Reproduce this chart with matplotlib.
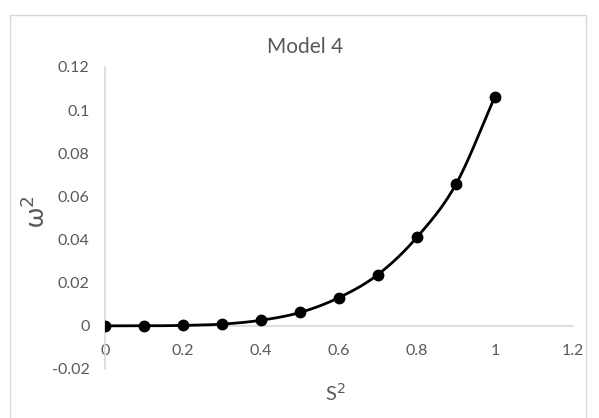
import numpy as np
import matplotlib
matplotlib.use("Agg")
import matplotlib.pyplot as plt
from matplotlib.patches import Rectangle

# data
s2 = [0.0, 0.1, 0.2, 0.3, 0.4, 0.5, 0.6, 0.7, 0.8, 0.9, 1.0]
omega2 = [0.0, 0.00002, 0.0002, 0.0008, 0.0026, 0.0062, 0.0131, 0.0238, 0.0411, 0.0657, 0.1063]

x_ticks = [0, 0.2, 0.4, 0.6, 0.8, 1, 1.2]
x_tick_labels = ["0", "0.2", "0.4", "0.6", "0.8", "1", "1.2"]
y_ticks = [-0.02, 0, 0.02, 0.04, 0.06, 0.08, 0.1, 0.12]
y_tick_labels = ["-0.02", "0", "0.02", "0.04", "0.06", "0.08", "0.1", "0.12"]

TXT = "#595959"
GRID = "#d9d9d9"
plt.rcParams['font.family'] = ['Lato', 'DejaVu Sans']


def smooth(x, y, n=30):
    # Catmull-Rom curve through the points, like Excel's smoothed line
    x = np.asarray(x, float)
    y = np.asarray(y, float)
    px = np.concatenate([[2 * x[0] - x[1]], x, [2 * x[-1] - x[-2]]])
    py = np.concatenate([[2 * y[0] - y[1]], y, [2 * y[-1] - y[-2]]])
    t = np.linspace(0, 1, n)
    xs, ys = [], []
    for i in range(1, len(px) - 2):
        for p, out in ((px, xs), (py, ys)):
            p0, p1, p2, p3 = p[i - 1], p[i], p[i + 1], p[i + 2]
            out.append(0.5 * ((2 * p1) + (-p0 + p2) * t
                              + (2 * p0 - 5 * p1 + 4 * p2 - p3) * t ** 2
                              + (-p0 + 3 * p1 - 3 * p2 + p3) * t ** 3))
    return np.concatenate(xs), np.concatenate(ys)


fig = plt.figure(figsize=(5.99, 4.18), dpi=100)
fig.add_artist(Rectangle((10 / 599, -0.05), 576 / 599, 1.05 - 15 / 418,
                         transform=fig.transFigure, fill=False,
                         edgecolor=GRID, linewidth=1))

ax = fig.add_axes([105 / 599, 1 - 369 / 418, 468 / 599, 302 / 418])

cx, cy = smooth(s2, omega2)
ax.plot(cx, cy, color="black", linewidth=2.0, solid_capstyle="round", zorder=3)
ax.plot(s2, omega2, linestyle="none", marker="o", markersize=7.5,
        color="black", zorder=4)

ax.set_xlim(0, 1.2)
ax.set_ylim(-0.02, 0.12)
ax.set_xticks(x_ticks)
ax.set_xticklabels(x_tick_labels)
ax.set_yticks(y_ticks)
ax.set_yticklabels(y_tick_labels)

for side in ("top", "right"):
    ax.spines[side].set_visible(False)
ax.spines["bottom"].set_position(("data", 0))
ax.spines["bottom"].set_color(GRID)
ax.spines["left"].set_color(GRID)
ax.spines["bottom"].set_linewidth(1.2)
ax.spines["left"].set_linewidth(1.2)
ax.tick_params(axis="x", length=0, pad=13, labelsize=11.5, labelcolor=TXT)
ax.tick_params(axis="y", length=0, pad=11, labelsize=11.5, labelcolor=TXT)

fig.text(305 / 599, 1 - 47 / 418, "Model 4", ha="center", va="center",
         fontsize=15, color=TXT)
fig.text(335 / 599, 1 - 393 / 418, "S$^2$", ha="center", va="center",
         fontsize=14.5, color=TXT)
fig.text(36 / 599, 1 - 212 / 418, "ω$^2$", ha="center", va="center",
         fontsize=19, color=TXT, rotation=90)

fig.savefig("out.png", dpi=100)
